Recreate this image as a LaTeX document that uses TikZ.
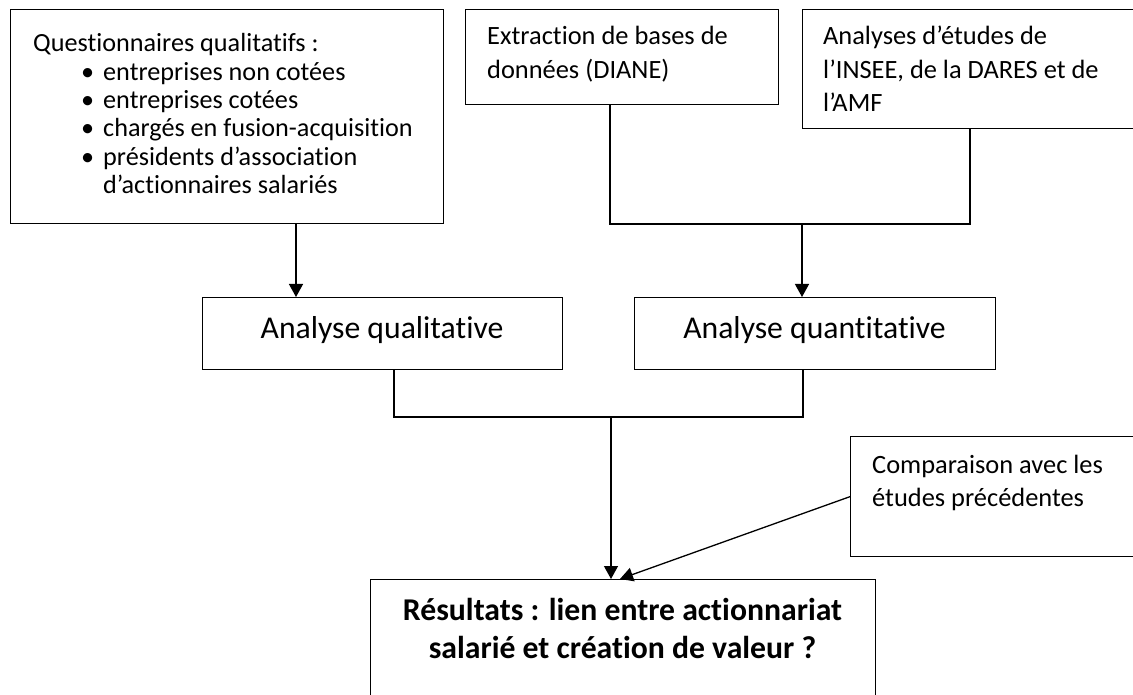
\documentclass[tikz,border=0pt]{standalone}
\usepackage{fontspec}
\setmainfont{Carlito}[RawFeature={-liga;-clig;-dlig;-calt}]
\usetikzlibrary{arrows.meta}
\begin{document}
\begin{tikzpicture}[x=1pt,y=-1pt,
  box/.style={draw, line width=1.3pt, inner sep=0pt, anchor=north west},
  txt/.style={inner sep=0pt, anchor=base west},
  ctxt/.style={inner sep=0pt, anchor=base},
  arr/.style={line width=1.3pt, -{Triangle[length=13pt,width=14pt]}},
  con/.style={line width=1.3pt},
  small/.style={font=\fontsize{26.2}{28.3}\selectfont},
  med/.style={font=\fontsize{26.4}{33.3}\selectfont},
  big/.style={font=\fontsize{31.7}{38}\selectfont}]
\useasboundingbox (0,0) rectangle (1133,695);
\fill[white] (0,0) rectangle (1133,695);
\clip (0,0) rectangle (1133,695);
% boxes
\node[box, minimum width=433pt, minimum height=214pt] (quest) at (10,9) {};
\node[box, minimum width=313pt, minimum height=95pt] (extr) at (465,9) {};
\node[box, minimum width=360pt, minimum height=119pt] (anal) at (802,9) {};
\node[box, minimum width=360pt, minimum height=72pt] (qual) at (202,297) {};
\node[box, minimum width=361pt, minimum height=72pt] (quant) at (634,297) {};
\node[box, minimum width=340pt, minimum height=120pt] (comp) at (850,436) {};
\node[box, minimum width=505pt, minimum height=140pt] (res) at (370,579) {};
% texts
\node[txt, small] (questT) at (33,52) {\parbox[t]{420pt}{\raggedright
Questionnaires qualitatifs :\\
\hspace*{48pt}\makebox[22pt][l]{•}entreprises non cotées\\
\hspace*{48pt}\makebox[22pt][l]{•}entreprises cotées\\
\hspace*{48pt}\makebox[22pt][l]{•}chargés en fusion-acquisition\\
\hspace*{48pt}\makebox[22pt][l]{•}présidents d’association\\
\hspace*{70pt}d’actionnaires salariés}};
\node[txt, med] (extrT) at (487,45) {\parbox[t]{290pt}{\raggedright
Extraction de bases de\\données (DIANE)}};
\node[txt, med] (analT) at (823,45) {\parbox[t]{310pt}{\raggedright
Analyses d’études de\\l’INSEE, de la DARES et de\\l’AMF}};
\node[ctxt, big] (qualT) at (382,338) {Analyse qualitative};
\node[ctxt, big] (quantT) at (814.5,338) {Analyse quantitative};
\node[txt, med] (compT) at (872,473) {\parbox[t]{260pt}{\raggedright
Comparaison avec les\\études précédentes}};
\node[ctxt, big] (resT) at (622.5,620) {\parbox[t]{500pt}{\centering\bfseries
Résultats : lien entre actionnariat\\salarié et création de valeur ?}};
% connectors
\coordinate (a1) at (296,0);
\draw[arr] (quest.south -| a1) -- (qual.north -| a1);
\coordinate (j1) at (610,224);
\coordinate (j2) at (970,224);
\coordinate (j3) at (802,224);
\draw[con] (extr.south -| j1) -- (j1) -- (j2) -- (anal.south -| j2);
\draw[arr] (j3) -- (quant.north -| j3);
\coordinate (k1) at (394,417);
\coordinate (k2) at (803,417);
\coordinate (k3) at (611,417);
\draw[con] (qual.south -| k1) -- (k1) -- (k2) -- (quant.south -| k2);
\draw[arr] (k3) -- (res.north -| k3);
\coordinate (rt) at (620,579);
\draw[arr] (comp.west) -- (rt);
\end{tikzpicture}
\end{document}
